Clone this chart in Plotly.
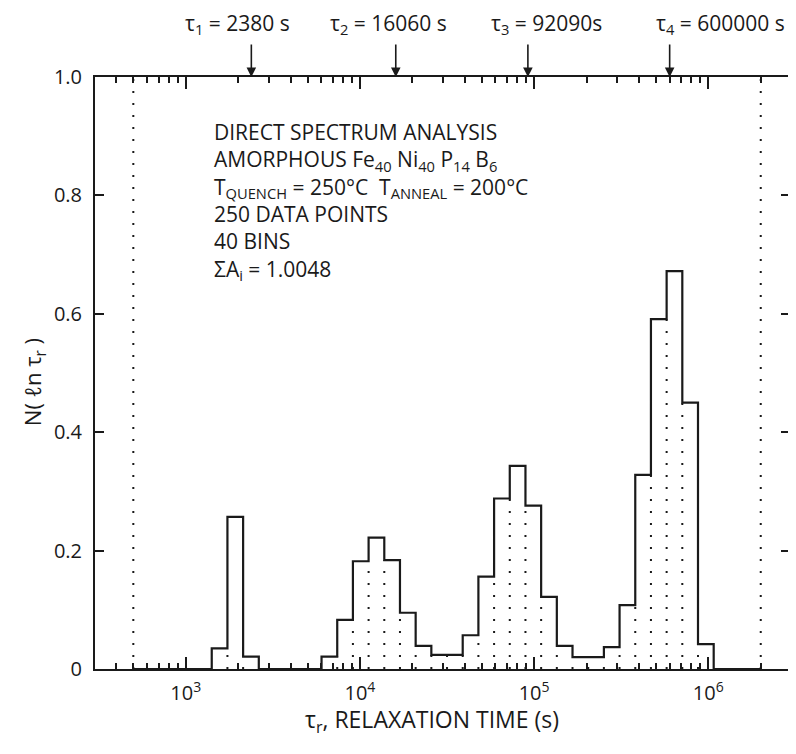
import numpy as np
import plotly.graph_objects as go

# ---------------- data ----------------
tau_min = 500.0          # lower limit of the binned spectrum (s)
tau_max = 2.0e6          # upper limit of the binned spectrum (s)
n_bins = 40
bin_heights = [0, 0, 0, 0, 0,
               0.035, 0.257, 0.021,
               0, 0, 0, 0,
               0.021, 0.083, 0.182, 0.222, 0.184, 0.095, 0.039,
               0.024, 0.024, 0.057, 0.156, 0.288, 0.343, 0.276, 0.122,
               0.039, 0.020, 0.020, 0.037, 0.108, 0.328, 0.591, 0.672,
               0.450, 0.042,
               0, 0, 0]
tau_peaks = [2380, 16060, 92090, 600000]
peak_labels = ["τ<sub>1</sub> = 2380 s", "τ<sub>2</sub> = 16060 s",
               "τ<sub>3</sub> = 92090s", "τ<sub>4</sub> = 600000 s"]
x_tickvals = [1e3, 1e4, 1e5, 1e6]
x_ticktext = ["10<sup>3</sup>", "10<sup>4</sup>", "10<sup>5</sup>", "10<sup>6</sup>"]
y_tickvals = [0, 0.2, 0.4, 0.6, 0.8, 1.0]
y_ticktext = ["0", "0.2", "0.4", "0.6", "0.8", "1.0"]
info_lines = [
    "DIRECT SPECTRUM ANALYSIS",
    "AMORPHOUS Fe<sub>40</sub> Ni<sub>40</sub> P<sub>14</sub> B<sub>6</sub>",
    "T<sub>QUENCH</sub> = 250°C  T<sub>ANNEAL</sub> = 200°C",
    "250 DATA POINTS",
    "40 BINS",
    "ΣA<sub>i</sub> = 1.0048",
]

# ---------------- derived geometry ----------------
edges = np.logspace(np.log10(tau_min), np.log10(tau_max), n_bins + 1)
h = np.array(bin_heights)

step_x, step_y = [], []
for i in range(n_bins):
    step_x += [edges[i], edges[i + 1]]
    step_y += [h[i], h[i]]

dot_x, dot_y = [], []
for i in range(1, n_bins):
    m = min(h[i - 1], h[i])
    if m > 0:
        dot_x += [edges[i], edges[i], None]
        dot_y += [0, m, None]

FONT = "Open Sans"
INK = "#1a1a1a"

fig = go.Figure()

# limits of the spectrum
for t in (tau_min, tau_max):
    fig.add_trace(go.Scatter(x=[t, t], y=[0, 1.0], mode="lines",
                             line=dict(color=INK, width=2, dash="2px,10px"),
                             hoverinfo="skip", showlegend=False))

# internal bin separators
fig.add_trace(go.Scatter(x=dot_x, y=dot_y, mode="lines",
                         line=dict(color=INK, width=2, dash="2px,10px"),
                         hoverinfo="skip", showlegend=False))

# histogram outline
fig.add_trace(go.Scatter(x=step_x, y=step_y, mode="lines",
                         line=dict(color=INK, width=2.2),
                         showlegend=False))

# page has an 8px body margin -> figure is drawn offset by 8px
OFF = 8
W, H = 796 - OFF, 754 - OFF
L, T = 95 - OFF, 77 - OFF
pw, ph = 697, 592
R = W - L - pw
B = H - T - ph


def px2paper_x(px):   # page pixel -> paper
    return (px - OFF - L) / pw


def px2paper_y(py):
    return (H - B - (py - OFF)) / ph


minor_vals = [k * 10.0 ** d for d in range(2, 7) for k in range(2, 10)]

fig.update_layout(
    width=W, height=H,
    margin=dict(l=L, r=R, t=T, b=B),
    paper_bgcolor="white", plot_bgcolor="white",
    font=dict(family=FONT, color=INK, size=19),
    showlegend=False,
    xaxis=dict(
        type="log", range=[2.479, 6.469],
        tickvals=x_tickvals, ticktext=x_ticktext,
        ticks="inside", ticklen=12, tickwidth=1.5, tickcolor=INK,
        minor=dict(tickvals=minor_vals, ticks="inside", ticklen=6,
                   tickwidth=1.5, tickcolor=INK, showgrid=False),
        showline=True, linecolor=INK, linewidth=2, mirror="ticks",
        showgrid=False, zeroline=False,
        tickfont=dict(size=20, family=FONT, color=INK),
        ticklabelstandoff=5,
    ),
    yaxis=dict(
        range=[0, 1.0],
        tickvals=y_tickvals, ticktext=y_ticktext,
        ticks="inside", ticklen=9, tickwidth=1.5, tickcolor=INK,
        showline=True, linecolor=INK, linewidth=2, mirror="ticks",
        showgrid=False, zeroline=False,
        tickfont=dict(size=20, family=FONT, color=INK),
        ticklabelstandoff=7,
    ),
)

annotations = []
# arrows marking the fitted relaxation times
label_px = [238, 389, 548, 722]
for tau, lab, lx in zip(tau_peaks, peak_labels, label_px):
    annotations.append(dict(x=np.log10(tau), y=1.0, xref="x", yref="y",
                            text="", showarrow=True, ax=0, ay=-34,
                            arrowhead=2, arrowsize=1.2, arrowwidth=1.6,
                            arrowcolor=INK))
    annotations.append(dict(x=px2paper_x(lx), y=px2paper_y(24),
                            xref="paper", yref="paper", text=lab,
                            showarrow=False, xanchor="center", yanchor="middle",
                            font=dict(size=21, family=FONT, color=INK)))

# info block (one multi-line text)
annotations.append(dict(x=px2paper_x(212), y=px2paper_y(201),
                        xref="paper", yref="paper", text="<br>".join(info_lines),
                        align="left", showarrow=False,
                        xanchor="left", yanchor="middle",
                        font=dict(size=21, family=FONT, color=INK)))

# axis titles
annotations.append(dict(x=px2paper_x(433), y=px2paper_y(720),
                        xref="paper", yref="paper",
                        text="τ<sub>r</sub>, RELAXATION TIME (s)",
                        showarrow=False, xanchor="center", yanchor="middle",
                        font=dict(size=23, family=FONT, color=INK)))
annotations.append(dict(x=px2paper_x(34), y=px2paper_y(382),
                        xref="paper", yref="paper",
                        text="N( ℓn τ<sub>r</sub> )", textangle=-90,
                        showarrow=False, xanchor="center", yanchor="middle",
                        font=dict(size=22, family=FONT, color=INK)))

fig.update_layout(annotations=annotations)

fig.write_html("out.html")
